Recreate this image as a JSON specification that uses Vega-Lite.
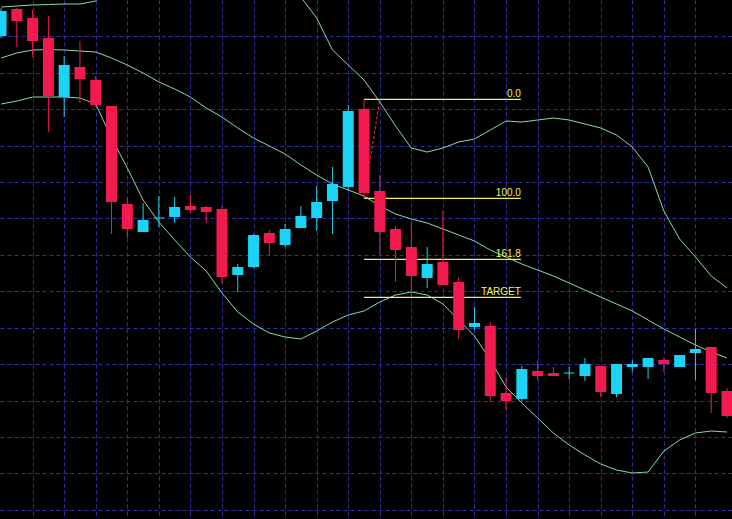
{
  "$schema": "https://vega.github.io/schema/vega-lite/v6.json",
  "width": 732,
  "height": 519,
  "autosize": "none",
  "padding": 0,
  "background": "#000000",
  "config": {
    "view": {"stroke": null},
    "axis": {
      "grid": true,
      "gridColor": "#2e2ea6",
      "gridDash": [4, 3],
      "gridWidth": 1,
      "gridOpacity": 1,
      "labels": false,
      "ticks": false,
      "domain": false,
      "title": null,
      "tickCount": 200
    }
  },
  "datasets": {
    "candles": [
      {"i": 0, "open": 564, "high": 592, "low": 562, "close": 589},
      {"i": 1, "open": 591, "high": 592, "low": 553, "close": 579},
      {"i": 2, "open": 582, "high": 590, "low": 543, "close": 559},
      {"i": 3, "open": 562, "high": 584, "low": 468, "close": 504},
      {"i": 4, "open": 503, "high": 544, "low": 483, "close": 535},
      {"i": 5, "open": 533, "high": 559, "low": 497, "close": 521},
      {"i": 6, "open": 520, "high": 524, "low": 493, "close": 495},
      {"i": 7, "open": 494, "high": 494, "low": 366, "close": 398},
      {"i": 8, "open": 396, "high": 402, "low": 362, "close": 371},
      {"i": 9, "open": 368, "high": 397, "low": 368, "close": 380},
      {"i": 10, "open": 381.5, "high": 404, "low": 373, "close": 382.5},
      {"i": 11, "open": 383, "high": 403, "low": 377, "close": 393},
      {"i": 12, "open": 394, "high": 405, "low": 387, "close": 390},
      {"i": 13, "open": 393, "high": 394, "low": 377, "close": 388},
      {"i": 14, "open": 391, "high": 394, "low": 317, "close": 323},
      {"i": 15, "open": 325, "high": 336, "low": 308, "close": 333},
      {"i": 16, "open": 333, "high": 366, "low": 332, "close": 365},
      {"i": 17, "open": 367, "high": 370, "low": 345, "close": 357},
      {"i": 18, "open": 355, "high": 376, "low": 353, "close": 371},
      {"i": 19, "open": 372, "high": 394, "low": 372, "close": 384},
      {"i": 20, "open": 382, "high": 414, "low": 369, "close": 398},
      {"i": 21, "open": 399, "high": 433, "low": 366, "close": 416},
      {"i": 22, "open": 413, "high": 495, "low": 410, "close": 489},
      {"i": 23, "open": 491, "high": 500, "low": 402, "close": 407},
      {"i": 24, "open": 409, "high": 425, "low": 346, "close": 368},
      {"i": 25, "open": 371, "high": 374, "low": 318, "close": 350},
      {"i": 26, "open": 353, "high": 378, "low": 304, "close": 324},
      {"i": 27, "open": 322, "high": 353, "low": 312, "close": 336},
      {"i": 28, "open": 338, "high": 389, "low": 315, "close": 315},
      {"i": 29, "open": 318, "high": 323, "low": 261, "close": 270},
      {"i": 30, "open": 273, "high": 293, "low": 270, "close": 277},
      {"i": 31, "open": 274, "high": 278, "low": 198, "close": 204},
      {"i": 32, "open": 207, "high": 223, "low": 190, "close": 199},
      {"i": 33, "open": 201, "high": 234, "low": 199, "close": 231},
      {"i": 34, "open": 229, "high": 239, "low": 220, "close": 224},
      {"i": 35, "open": 227, "high": 233, "low": 224, "close": 224},
      {"i": 36, "open": 226.5, "high": 233, "low": 221, "close": 227.5},
      {"i": 37, "open": 224, "high": 242, "low": 219, "close": 236},
      {"i": 38, "open": 234, "high": 234, "low": 203, "close": 208},
      {"i": 39, "open": 206, "high": 236, "low": 203, "close": 236},
      {"i": 40, "open": 233, "high": 240, "low": 228, "close": 236},
      {"i": 41, "open": 233, "high": 242, "low": 221, "close": 242},
      {"i": 42, "open": 240, "high": 242, "low": 228, "close": 236},
      {"i": 43, "open": 233, "high": 245, "low": 233, "close": 245},
      {"i": 44, "open": 247, "high": 271, "low": 220, "close": 251},
      {"i": 45, "open": 253, "high": 253, "low": 187, "close": 207},
      {"i": 46, "open": 209, "high": 212, "low": 182, "close": 184}
    ],
    "bands": [
      {"i": 0, "upper": 593, "middle": 542, "lower": 496},
      {"i": 1, "upper": 594, "middle": 547, "lower": 499},
      {"i": 2, "upper": 595, "middle": 550, "lower": 503},
      {"i": 3, "upper": 595.5, "middle": 550.5, "lower": 503},
      {"i": 4, "upper": 596, "middle": 550, "lower": 503},
      {"i": 5, "upper": 596, "middle": 549, "lower": 502},
      {"i": 6, "upper": 599, "middle": 548, "lower": 496},
      {"i": 7, "upper": 620, "middle": 542, "lower": 462},
      {"i": 8, "upper": 635, "middle": 535, "lower": 432},
      {"i": 9, "upper": 645, "middle": 527, "lower": 400},
      {"i": 10, "upper": 650, "middle": 518, "lower": 378},
      {"i": 11, "upper": 655, "middle": 511, "lower": 360},
      {"i": 12, "upper": 655, "middle": 503, "lower": 343},
      {"i": 13, "upper": 655, "middle": 492, "lower": 329},
      {"i": 14, "upper": 650, "middle": 483, "lower": 307},
      {"i": 15, "upper": 645, "middle": 472, "lower": 288},
      {"i": 16, "upper": 640, "middle": 462, "lower": 276},
      {"i": 17, "upper": 632, "middle": 454, "lower": 267},
      {"i": 18, "upper": 624, "middle": 446, "lower": 263},
      {"i": 19, "upper": 603, "middle": 435, "lower": 261},
      {"i": 20, "upper": 582, "middle": 425, "lower": 269},
      {"i": 21, "upper": 550, "middle": 416, "lower": 278},
      {"i": 22, "upper": 535, "middle": 410, "lower": 285},
      {"i": 23, "upper": 520, "middle": 404, "lower": 289},
      {"i": 24, "upper": 498, "middle": 394, "lower": 298},
      {"i": 25, "upper": 474, "middle": 386, "lower": 305},
      {"i": 26, "upper": 452, "middle": 381, "lower": 308},
      {"i": 27, "upper": 448, "middle": 377, "lower": 305},
      {"i": 28, "upper": 452, "middle": 371, "lower": 296},
      {"i": 29, "upper": 458, "middle": 365, "lower": 280},
      {"i": 30, "upper": 461, "middle": 359, "lower": 264},
      {"i": 31, "upper": 470, "middle": 350, "lower": 240},
      {"i": 32, "upper": 479, "middle": 343, "lower": 213},
      {"i": 33, "upper": 478, "middle": 336, "lower": 197},
      {"i": 34, "upper": 480, "middle": 330, "lower": 182},
      {"i": 35, "upper": 482, "middle": 324, "lower": 167},
      {"i": 36, "upper": 480, "middle": 317, "lower": 155},
      {"i": 37, "upper": 476, "middle": 310, "lower": 145},
      {"i": 38, "upper": 472, "middle": 303, "lower": 136},
      {"i": 39, "upper": 465, "middle": 296, "lower": 130},
      {"i": 40, "upper": 453, "middle": 289, "lower": 127},
      {"i": 41, "upper": 433, "middle": 280, "lower": 128},
      {"i": 42, "upper": 389, "middle": 271, "lower": 149},
      {"i": 43, "upper": 361, "middle": 263, "lower": 160},
      {"i": 44, "upper": 343, "middle": 255, "lower": 167},
      {"i": 45, "upper": 324, "middle": 248, "lower": 169},
      {"i": 46, "upper": 312, "middle": 242, "lower": 168}
    ],
    "fib": [
      {"level": "0.0", "price": 500.7},
      {"level": "100.0", "price": 401.7},
      {"level": "161.8", "price": 340.7},
      {"level": "TARGET", "price": 302.7}
    ],
    "trend": [
      {"i": 23, "price": 401.7},
      {"i": 24, "price": 500.7}
    ]
  },
  "layer": [
    {
      "data": {"name": "bands"},
      "mark": {"type": "line", "color": "#86dca0", "strokeWidth": 1, "clip": true},
      "encoding": {
        "x": {
          "field": "i", "type": "quantitative",
          "scale": {"domain": [0.25, 46], "nice": false, "zero": false},
          "axis": {"tickCount": 200, "values": [2, 4, 6, 8, 10, 12, 14, 16, 18, 20, 22, 24, 26, 28, 30, 32, 34, 36, 38, 40, 42, 44]}
        },
        "y": {
          "field": "upper", "type": "quantitative",
          "scale": {"domain": [81, 600], "nice": false, "zero": false},
          "axis": {"tickCount": 200, "values": [563.6, 527.2, 490.8, 454.4, 418, 381.5, 345.1, 308.7, 272.3, 235.9, 199.5, 163.1, 126.7, 90.3]}
        }
      }
    },
    {
      "data": {"name": "bands"},
      "mark": {"type": "line", "color": "#86dca0", "strokeWidth": 1, "clip": true},
      "encoding": {
        "x": {"field": "i", "type": "quantitative"},
        "y": {"field": "middle", "type": "quantitative"}
      }
    },
    {
      "data": {"name": "bands"},
      "mark": {"type": "line", "color": "#86dca0", "strokeWidth": 1, "clip": true},
      "encoding": {
        "x": {"field": "i", "type": "quantitative"},
        "y": {"field": "lower", "type": "quantitative"}
      }
    },
    {
      "data": {"name": "fib"},
      "mark": {"type": "rule", "color": "#f0f050", "strokeWidth": 1.2},
      "encoding": {
        "x": {"datum": 23},
        "x2": {"datum": 32.94},
        "y": {"field": "price", "type": "quantitative"}
      }
    },
    {
      "data": {"name": "trend"},
      "mark": {"type": "line", "color": "#ff2a2a", "strokeWidth": 1, "strokeDash": [3, 2]},
      "encoding": {
        "x": {"field": "i", "type": "quantitative"},
        "y": {"field": "price", "type": "quantitative"}
      }
    },
    {
      "data": {"name": "candles"},
      "mark": {"type": "rule", "strokeWidth": 1},
      "encoding": {
        "x": {"field": "i", "type": "quantitative"},
        "y": {"field": "low", "type": "quantitative"},
        "y2": {"field": "high"},
        "color": {"condition": {"test": "datum.close > datum.open", "value": "#1ad3f7"}, "value": "#f31a50"}
      }
    },
    {
      "data": {"name": "candles"},
      "mark": {"type": "bar", "size": 11},
      "encoding": {
        "x": {"field": "i", "type": "quantitative"},
        "y": {"field": "open", "type": "quantitative"},
        "y2": {"field": "close"},
        "color": {"condition": {"test": "datum.close > datum.open", "value": "#1ad3f7"}, "value": "#f31a50"}
      }
    },
    {
      "data": {"name": "fib"},
      "mark": {"type": "text", "align": "right", "baseline": "bottom", "font": "Liberation Sans", "fontSize": 10, "color": "#f5f55a"},
      "encoding": {
        "x": {"datum": 32.94},
        "y": {"field": "price", "type": "quantitative"},
        "text": {"field": "level"}
      }
    }
  ]
}
